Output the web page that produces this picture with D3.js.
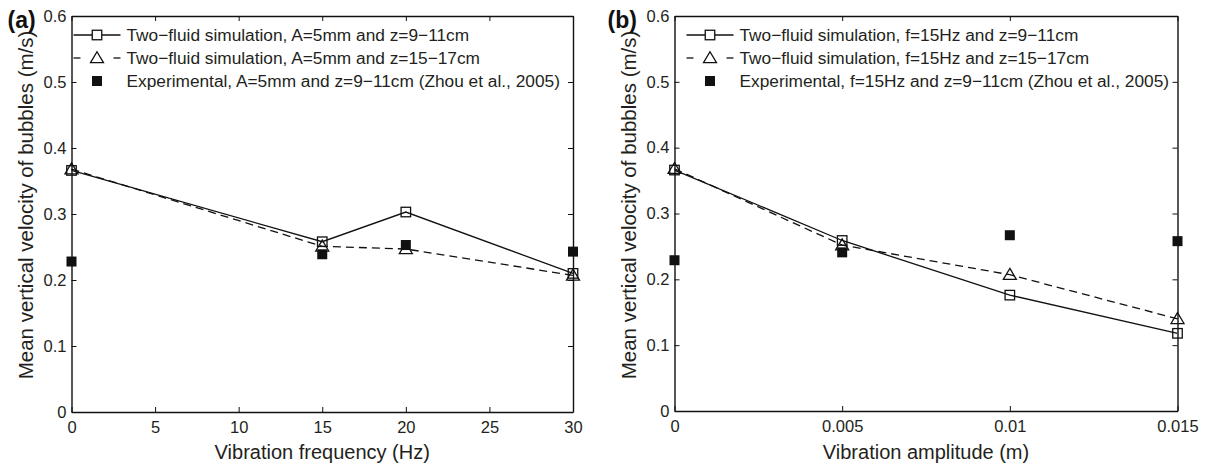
<!DOCTYPE html>
<html><head><meta charset="utf-8">
<script src="https://cdn.jsdelivr.net/npm/d3@7"></script>
<style>body{margin:0;background:#fff;} svg{display:block;font-family:"Liberation Sans",Arial,sans-serif;}</style>
</head><body>
<svg id="c" width="1205" height="466"></svg>
<script>
// Panel (a): vs vibration frequency
const freqX = [0, 15, 20, 30];
const freqSim911 = [0.366, 0.258, 0.303, 0.210];
const freqSim1517 = [0.368, 0.251, 0.247, 0.207];
const freqExpX = [0, 15, 20, 30];
const freqExp = [0.228, 0.239, 0.253, 0.243];
const freqTicks = [0, 5, 10, 15, 20, 25, 30];
const freqLegend = ["Two\u2212fluid simulation, A=5mm and z=9\u221211cm",
  "Two\u2212fluid simulation, A=5mm and z=15\u221217cm",
  "Experimental, A=5mm and z=9\u221211cm (Zhou et al., 2005)"];

// Panel (b): vs vibration amplitude
const ampX = [0, 0.005, 0.01, 0.015];
const ampSim911 = [0.366, 0.259, 0.176, 0.118];
const ampSim1517 = [0.368, 0.252, 0.207, 0.140];
const ampExp = [0.229, 0.241, 0.267, 0.258];
const ampTicks = [0, 0.005, 0.01, 0.015];
const ampLegend = ["Two\u2212fluid simulation, f=15Hz and z=9\u221211cm",
  "Two\u2212fluid simulation, f=15Hz and z=15\u221217cm",
  "Experimental, f=15Hz and z=9\u221211cm (Zhou et al., 2005)"];

const yTicks = [0, 0.1, 0.2, 0.3, 0.4, 0.5, 0.6];
const yLabel = "Mean vertical velocity of bubbles (m/s)";

const svg = d3.select("#c");
const TXT = "#231f20";
const INK = "#111";

function panel(cfg) {
  const g = svg.append("g");
  const x = d3.scaleLinear().domain(cfg.xDomain).range([cfg.left, cfg.right]);
  const y = d3.scaleLinear().domain([0, 0.6]).range([cfg.bottom, cfg.top]);
  const tl = 5;
  const bx = g.append("g").attr("transform", `translate(0,${cfg.bottom})`)
    .call(d3.axisBottom(x).tickValues(cfg.xTicks).tickSizeInner(-tl).tickSizeOuter(0).tickPadding(9.6).tickFormat(cfg.xFmt));
  const tx = g.append("g").attr("transform", `translate(0,${cfg.top})`)
    .call(d3.axisTop(x).tickValues(cfg.xTicks).tickSizeInner(-tl).tickSizeOuter(0).tickFormat(""));
  const ly = g.append("g").attr("transform", `translate(${cfg.left},0)`)
    .call(d3.axisLeft(y).tickValues(yTicks).tickSizeInner(-tl).tickSizeOuter(0).tickPadding(5).tickFormat(d => d === 0 ? "0" : d3.format(".1f")(d)));
  const ry = g.append("g").attr("transform", `translate(${cfg.right},0)`)
    .call(d3.axisRight(y).tickValues(yTicks).tickSizeInner(-tl).tickSizeOuter(0).tickFormat(""));
  [bx, tx, ly, ry].forEach(a => {
    a.select(".domain").attr("stroke", INK).attr("stroke-width", 1.4);
    a.selectAll(".tick line").attr("stroke", INK).attr("stroke-width", 1);
    a.selectAll(".tick text").attr("fill", TXT).attr("font-size", 16.5).attr("font-family", "Liberation Sans, Arial, sans-serif");
  });

  const line = d3.line().x(d => x(d[0])).y(d => y(d[1]));
  const s1 = cfg.xs.map((v, i) => [v, cfg.sim1[i]]);
  const s2 = cfg.xs.map((v, i) => [v, cfg.sim2[i]]);
  const s3 = cfg.expX.map((v, i) => [v, cfg.exp[i]]);
  g.append("path").attr("d", line(s2)).attr("fill", "none").attr("stroke", INK).attr("stroke-width", 1.3).attr("stroke-dasharray", "8,5");
  g.append("path").attr("d", line(s1)).attr("fill", "none").attr("stroke", INK).attr("stroke-width", 1.3);

  const sq = 9.5, tri = 11, fsq = 10;
  function openSquare(cx, cy) {
    g.append("rect").attr("x", cx - sq / 2).attr("y", cy - sq / 2).attr("width", sq).attr("height", sq)
      .attr("fill", "none").attr("stroke", INK).attr("stroke-width", 1.3);
  }
  function triangle(cx, cy) {
    const h = tri * 0.95;
    g.append("path").attr("d", `M${cx},${cy - h * 0.6}L${cx + tri / 2 + 1},${cy + h * 0.45}L${cx - tri / 2 - 1},${cy + h * 0.45}Z`)
      .attr("fill", "none").attr("stroke", INK).attr("stroke-width", 1.3);
  }
  function filledSquare(cx, cy) {
    g.append("rect").attr("x", cx - fsq / 2).attr("y", cy - fsq / 2).attr("width", fsq).attr("height", fsq).attr("fill", INK);
  }
  s1.forEach(d => openSquare(x(d[0]), y(d[1])));
  s2.forEach(d => triangle(x(d[0]), y(d[1])));
  s3.forEach(d => filledSquare(x(d[0]), y(d[1])));

  // legend
  const rows = [35, 58, 81];
  const lx0 = cfg.left + cfg.legOff, lx1 = lx0 + 47, lm = (lx0 + lx1) / 2, tx0 = lx1 + 6;
  g.append("line").attr("x1", lx0).attr("x2", lx1).attr("y1", rows[0]).attr("y2", rows[0]).attr("stroke", INK).attr("stroke-width", 1.3);
  g.append("rect").attr("x", lm - sq / 2).attr("y", rows[0] - sq / 2).attr("width", sq).attr("height", sq).attr("fill", "#fff");
  openSquare(lm, rows[0]);
  g.append("line").attr("x1", lx0).attr("x2", lx0 + 7).attr("y1", rows[1]).attr("y2", rows[1]).attr("stroke", INK).attr("stroke-width", 1.3);
  g.append("line").attr("x1", lx1 - 7).attr("x2", lx1).attr("y1", rows[1]).attr("y2", rows[1]).attr("stroke", INK).attr("stroke-width", 1.3);
  triangle(lm, rows[1]);
  filledSquare(lm, rows[2]);
  cfg.legend.forEach((t, i) => {
    g.append("text").attr("x", tx0).attr("y", rows[i]).attr("dy", "0.36em").attr("fill", TXT)
      .attr("font-size", 17.3).text(t);
  });

  g.append("text").attr("x", (cfg.left + cfg.right) / 2).attr("y", 458.5).attr("text-anchor", "middle")
    .attr("fill", TXT).attr("font-size", 20).text(cfg.xLabel);
  g.append("text").attr("transform", `translate(${cfg.left - 39},${205}) rotate(-90)`)
    .attr("text-anchor", "middle").attr("fill", TXT).attr("font-size", 20.5).text(yLabel);
  g.append("text").attr("x", cfg.left - cfg.tagOff).attr("y", 28).attr("fill", INK).attr("font-weight", "bold")
    .attr("font-size", 23).text(cfg.tag);
}

panel({left: 71.5, right: 573, top: 16, bottom: 412, xDomain: [0, 30], xTicks: freqTicks, xFmt: d3.format("d"),
  xs: freqX, sim1: freqSim911, sim2: freqSim1517, expX: freqExpX, exp: freqExp, legend: freqLegend, legOff: 2,
  xLabel: "Vibration frequency (Hz)", tag: "(a)", tagOff: 64});
panel({left: 674.5, right: 1177.5, top: 16, bottom: 411, xDomain: [0, 0.015], xTicks: ampTicks, xFmt: d => d === 0 ? "0" : String(+d.toFixed(3)),
  xs: ampX, sim1: ampSim911, sim2: ampSim1517, expX: ampX, exp: ampExp, legend: ampLegend, legOff: 12,
  xLabel: "Vibration amplitude (m)", tag: "(b)", tagOff: 67});
</script>
</body></html>
